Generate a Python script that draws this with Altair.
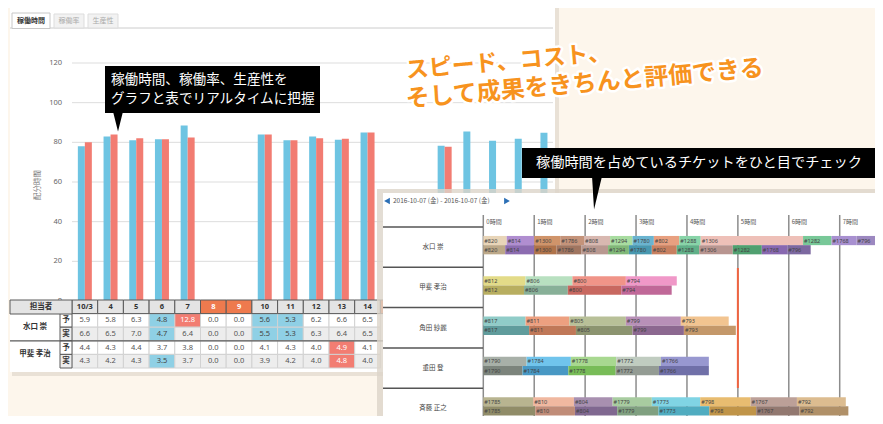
import altair as alt
import pandas as pd

JP = "Noto Sans CJK JP"
W, H = 867, 408


def X(px):
    return px - 8


def Y(py):
    return py - 8


one = pd.DataFrame({"k": [0]})

# ---------------- data ----------------
days = ["10/3", "4", "5", "6", "7", "8", "9", "10", "11", "12", "13", "14",
        "15", "16", "17", "18", "19", "20", "21"]
weekend = ["8", "9", "15", "16"]
plan_hours = [78, 83, 81, 81.5, 88.5, None, None, 84, 81, 83, 81.3, 85,
              None, None, 78.3, 85.4, 80.8, 81.8, 84.8]
actual_hours = [80, 84, 82, 81.5, 82.5, None, None, 84, 81, 82, 81.8, 85,
                None, None, 77.8, None, None, None, None]
y_ticks = [0, 20, 40, 60, 80, 100, 120]

table_days = days[:12]
header_days = days[:13]
mizuguchi_plan = [5.9, 5.8, 6.3, 4.8, 12.8, 0.0, 0.0, 5.6, 5.3, 6.2, 6.6, 6.5]
mizuguchi_actual = [6.6, 6.5, 7.0, 4.7, 6.4, 0.0, 0.0, 5.5, 5.3, 6.3, 6.4, 6.5]
kai_plan = [4.4, 4.3, 4.4, 3.7, 3.8, 0.0, 0.0, 4.1, 4.3, 4.0, 4.9, 4.1]
kai_actual = [4.3, 4.2, 4.3, 3.5, 3.7, 0.0, 0.0, 3.9, 4.2, 4.0, 4.8, 4.0]
mizuguchi_plan_flag = ["", "", "", "low", "high", "", "", "low", "low", "", "", ""]
mizuguchi_actual_flag = ["", "", "", "low", "", "", "", "low", "low", "", "", ""]
kai_plan_flag = ["", "", "", "", "", "", "", "", "", "", "high", ""]
kai_actual_flag = ["", "", "", "low", "", "", "", "", "", "", "high", ""]

people = ["水口 崇", "甲斐 孝治", "角田 紗麗", "重田 登", "斉藤 正之"]
tickets = {
    "水口 崇": ["#820", "#814", "#1300", "#1786", "#808", "#1294", "#1780", "#802",
              "#1288", "#1306", "#1282", "#1768", "#796"],
    "甲斐 孝治": ["#812", "#806", "#800", "#794"],
    "角田 紗麗": ["#817", "#811", "#805", "#799", "#793"],
    "重田 登": ["#1790", "#1784", "#1778", "#1772", "#1766"],
    "斉藤 正之": ["#1785", "#810", "#804", "#1779", "#1773", "#798", "#1767", "#792"],
}
plan_bounds = {
    "水口 崇": [0, 0.46, 1.0, 1.51, 1.98, 2.49, 2.93, 3.35, 3.85, 4.27, 6.28, 6.84, 7.33, 7.79],
    "甲斐 孝治": [0, 0.83, 1.75, 2.80, 3.80],
    "角田 紗麗": [0, 0.83, 1.69, 2.80, 3.88, 4.82],
    "重田 登": [0, 0.85, 1.72, 2.61, 3.49, 4.43],
    "斉藤 正之": [0, 0.98, 1.78, 2.54, 3.31, 4.26, 5.25, 6.16, 7.12],
}
actual_bounds = {
    "水口 崇": [0, 0.43, 1.0, 1.44, 1.93, 2.45, 2.86, 3.31, 3.80, 4.24, 4.90, 5.47, 5.97, 6.43],
    "甲斐 孝治": [0, 0.80, 1.66, 2.71, 3.70],
    "角田 紗麗": [0, 0.90, 1.82, 2.93, 3.94, 4.96],
    "重田 登": [0, 0.77, 1.67, 2.60, 3.45, 4.43],
    "斉藤 正之": [0, 1.02, 1.80, 2.63, 3.44, 4.44, 5.36, 6.21, 7.17],
}
hours = [0, 1, 2, 3, 4, 5, 6, 7]
now_hour = [5.0]

# ticket palette: (planned, actual)
palette = {
    "#820": ("#E8D5B8", "#BCA888"), "#814": ("#B08ED0", "#8C6CB0"),
    "#1300": ("#D0946A", "#B0734A"), "#1786": ("#C4937A", "#A07560"),
    "#808": ("#D8B8B0", "#B89890"), "#1294": ("#A8DCA0", "#80B878"),
    "#1780": ("#6AB4D0", "#4898B0"), "#802": ("#E8A080", "#C88060"),
    "#1288": ("#88D4A8", "#60B088"), "#1306": ("#EEC0B8", "#B89590"),
    "#1282": ("#78C898", "#50A070"), "#1768": ("#A890D0", "#8868B0"),
    "#796": ("#9C88C0", "#7C68A0"),
    "#812": ("#E3DB88", "#B8AE60"), "#806": ("#B8E0C0", "#88B098"),
    "#800": ("#F09488", "#C86860"), "#794": ("#F098C8", "#C06898"),
    "#817": ("#90CCC8", "#609C9C"), "#811": ("#EDA080", "#C07858"),
    "#805": ("#B8C098", "#8C9470"), "#799": ("#B890B8", "#8C6890"),
    "#793": ("#F2C490", "#C4986A"),
    "#1790": ("#A8B0A8", "#7C847C"), "#1784": ("#70C4EC", "#4898C4"),
    "#1778": ("#A8D890", "#78BC58"), "#1772": ("#C0CCC0", "#949C94"),
    "#1766": ("#9898D0", "#7070A8"),
    "#1785": ("#B8B490", "#908C68"), "#810": ("#F0B8A0", "#C08C78"),
    "#804": ("#A890B0", "#806890"), "#1779": ("#A8CCA0", "#80A080"),
    "#1773": ("#80D4E4", "#50ACC0"), "#798": ("#E8BC70", "#C09448"),
    "#1767": ("#BCA098", "#927870"), "#792": ("#DCBC90", "#B09068"),
}


# ---------------- helpers for decoration ----------------
def box(x1, y1, x2, y2, fill, stroke=None, sw=1, opacity=1):
    kw = dict(fill=fill, opacity=opacity)
    if stroke:
        kw.update(stroke=stroke, strokeWidth=sw)
    return alt.Chart(one).mark_rect(**kw).encode(
        x=alt.value(X(x1)), x2=alt.value(X(x2)),
        y=alt.value(Y(y1)), y2=alt.value(Y(y2)))


def hline(x1, x2, y, color, sw=1):
    return alt.Chart(one).mark_rule(color=color, strokeWidth=sw).encode(
        x=alt.value(X(x1)), x2=alt.value(X(x2)), y=alt.value(Y(y)))


def label(x, y, text, size, color, align="left", weight="normal", font=JP,
          angle=None, **extra):
    kw = dict(text=text, fontSize=size, color=color, align=align,
              baseline="middle", fontWeight=weight, font=font)
    if angle is not None:
        kw["angle"] = angle
    kw.update(extra)
    return alt.Chart(one).mark_text(**kw).encode(
        x=alt.value(X(x)), y=alt.value(Y(y)))


def pointer(x, y, path, size):
    return alt.Chart(one).mark_point(shape=path, size=size, filled=True,
                                     color="black", opacity=1).encode(
        x=alt.value(X(x)), y=alt.value(Y(y)))


layers = []

# ---------------- left panel ----------------
layers += [
    box(12, 8, 559, 376, "#E7DFD4", opacity=0.9),
    box(10, 5, 555, 372, "white"),
    hline(10, 553, 28, "#CCCCCC"),
    box(12, 13, 50, 28.5, "white", stroke="#C8C8C8"),
    box(54, 14, 84, 28, "#F2F2F2", stroke="#DDDDDD"),
    box(88, 14, 118, 28, "#F2F2F2", stroke="#DDDDDD"),
    label(31, 21, "稼働時間", 7, "#333333", align="center", weight="bold"),
    label(69, 21, "稼働率", 7, "#AAAAAA", align="center"),
    label(103, 21, "生産性", 7, "#AAAAAA", align="center"),
    label(38, 185, "配分時間", 7.5, "#777777", align="center", angle=270),
]

# ---------------- bar chart ----------------
bx = alt.Scale(domain=days, range=[X(72), X(72 + 19 * 25.7)],
               paddingInner=0, paddingOuter=0)
by = alt.Scale(domain=[0, 120], range=[Y(301), Y(63)], nice=False, zero=False)

bars_df = pd.DataFrame({"day": days, "plan": plan_hours, "actual": actual_hours})
ticks_df = pd.DataFrame({"v": y_ticks})

grid = alt.Chart(ticks_df).mark_rule(color="#DDDDDD", strokeWidth=1).encode(
    y=alt.Y("v:Q", scale=by, axis=None),
    x=alt.value(X(72)), x2=alt.value(X(553)))
tick_text = alt.Chart(ticks_df).mark_text(
    align="right", baseline="middle", fontSize=7.5, color="#666666", font="Noto Sans"
).encode(y=alt.Y("v:Q", scale=by, axis=None), x=alt.value(X(62)),
         text=alt.Text("v:Q"))
blue = alt.Chart(bars_df).mark_bar(width=7, xOffset=-3.5, color="#6EC4E2").encode(
    x=alt.X("day:N", scale=bx, axis=None),
    y=alt.Y("plan:Q", scale=by, axis=None))
red = alt.Chart(bars_df).mark_bar(width=7, xOffset=3.5, color="#F27C72").encode(
    x=alt.X("day:N", scale=bx, axis=None),
    y=alt.Y("actual:Q", scale=by, axis=None))
layers.append(alt.layer(grid, tick_text, blue, red))

# ---------------- table ----------------
row_keys = ["hdr", "水口 崇|予", "水口 崇|実", "甲斐 孝治|予", "甲斐 孝治|実"]
ty = alt.Scale(domain=row_keys, range=[Y(300), Y(368)], paddingInner=0, paddingOuter=0)
styles = ["header", "weekend", "low", "high", "plan", "actual"]
fill_scale = alt.Scale(domain=styles, range=["#E4E4E4", "#EE7A4E", "#8FD0E5",
                                             "#F27D72", "#FFFFFF", "#EDEDED"])
text_scale = alt.Scale(domain=styles, range=["#333333", "#FFFFFF", "#444444",
                                             "#FFFFFF", "#555555", "#555555"])

hdr_df = pd.DataFrame({
    "day": header_days, "row": "hdr",
    "txt": header_days,
    "style": ["weekend" if d in weekend else "header" for d in header_days],
})
cell_rows = []
for key, vals, flags, base in [
    ("水口 崇|予", mizuguchi_plan, mizuguchi_plan_flag, "plan"),
    ("水口 崇|実", mizuguchi_actual, mizuguchi_actual_flag, "actual"),
    ("甲斐 孝治|予", kai_plan, kai_plan_flag, "plan"),
    ("甲斐 孝治|実", kai_actual, kai_actual_flag, "actual"),
]:
    for d, v, f in zip(table_days, vals, flags):
        cell_rows.append({"day": d, "row": key, "txt": f"{v:.1f}",
                          "style": f if f else base})
cell_df = pd.DataFrame(cell_rows)
side_df = pd.DataFrame({"row": row_keys[1:], "txt": ["予", "実", "予", "実"],
                        "style": ["plan", "actual", "plan", "actual"],
                        "person": ["水口 崇", "水口 崇", "甲斐 孝治", "甲斐 孝治"]})

tx = alt.X("day:N", scale=bx, axis=None)
tyenc = alt.Y("row:N", scale=ty, axis=None)
fill_enc = alt.Fill("style:N", scale=fill_scale, legend=None)
col_enc = alt.Color("style:N", scale=text_scale, legend=None)

data_cells = alt.Chart(cell_df).mark_rect(stroke="#D2D2D2", strokeWidth=1).encode(
    x=tx, y=tyenc, fill=fill_enc)
data_text = alt.Chart(cell_df).mark_text(fontSize=7.5, font="Noto Sans").encode(
    x=tx, y=tyenc, text="txt:N", color=col_enc)
hdr_cells = alt.Chart(hdr_df).mark_rect(stroke="#5A5A5A", strokeWidth=1).encode(
    x=tx, y=tyenc, fill=fill_enc)
hdr_text = alt.Chart(hdr_df).mark_text(fontSize=7.5, font="Noto Sans",
                                       fontWeight="bold").encode(
    x=tx, y=tyenc, text="txt:N", color=col_enc)
name_cells = alt.Chart(side_df).mark_rect(fill="white").encode(
    y=tyenc, x=alt.value(X(10)), x2=alt.value(X(60)))
side_cells = alt.Chart(side_df).mark_rect(stroke="#5A5A5A", strokeWidth=1).encode(
    y=tyenc, x=alt.value(X(60)), x2=alt.value(X(72)), fill=fill_enc)
side_text = alt.Chart(side_df).mark_text(fontSize=7.5, font=JP, fontWeight="bold",
                                         color="#333333").encode(
    y=tyenc, x=alt.value(X(66)), text="txt:N")
name_df = side_df[side_df["txt"] == "実"]
name_text = alt.Chart(name_df).mark_text(fontSize=7.5, font=JP, fontWeight="bold",
                                         color="#333333").encode(
    y=alt.Y("row:N", scale=ty, axis=None, bandPosition=0),
    x=alt.value(X(35)), text="person:N")
sep_df = pd.DataFrame({"row": ["甲斐 孝治|予"]})
person_sep = alt.Chart(sep_df).mark_rule(color="#5A5A5A", strokeWidth=1.2).encode(
    y=alt.Y("row:N", scale=ty, axis=None, bandPosition=0),
    x=alt.value(X(10)), x2=alt.value(X(383)))
layers.append(alt.layer(name_cells, data_cells, data_text, hdr_cells, hdr_text,
                        side_cells, side_text, name_text, person_sep))
layers += [
    box(10, 300, 72, 314, "#E4E4E4", stroke="#5A5A5A"),
    label(41, 307, "担当者", 7.5, "#333333", align="center", weight="bold"),
]

# ---------------- callout 1 ----------------
layers += [
    box(105, 66, 320, 113, "black"),
    pointer(118, 122, "M-0.5,-1L0.5,-1L0,1Z", 361),
    label(111, 80, "稼働時間、稼働率、生産性を", 13.6, "white"),
    label(111, 99, "グラフと表でリアルタイムに把握", 13.6, "white"),
]

# ---------------- headline ----------------
for (x, y, t, s) in [(406, 71, "スピード、コスト、", 23),
                     (406, 100, "そして成果をきちんと評価できる", 24)]:
    layers.append(label(x, y, t, s, "white", weight="bold", angle=355,
                        stroke="white", strokeWidth=5, strokeJoin="round"))
    layers.append(label(x, y, t, s, "#F7931E", weight="bold", angle=355))

# ---------------- gantt panel ----------------
layers += [
    box(377, 189, 883, 424, "#DCD4C9", opacity=0.8),
    box(383, 193, 883, 424, "white"),
]

ROW_H = 40.3
gx = alt.Scale(domain=[0, 7], range=[X(483.3), X(839.7)], nice=False, zero=False)
gy = alt.Scale(domain=people, range=[Y(227), Y(227 + 5 * ROW_H)],
               paddingInner=0, paddingOuter=0)

seg_rows = []
for p in people:
    for kind, bounds in [("plan", plan_bounds[p]), ("actual", actual_bounds[p])]:
        for i, t in enumerate(tickets[p]):
            seg_rows.append({"person": p, "kind": kind, "ticket": t,
                             "start": bounds[i], "end": bounds[i + 1],
                             "key": kind + t})
seg_df = pd.DataFrame(seg_rows)
keys = [k + t for t in palette for k in ("plan", "actual")]
cols = [palette[t][0 if k == "plan" else 1] for t in palette for k in ("plan", "actual")]
gcolor = alt.Color("key:N", scale=alt.Scale(domain=keys, range=cols), legend=None)

hours_df = pd.DataFrame({"h": hours, "lab": [f"{h}時間" for h in hours]})
ggrid = alt.Chart(hours_df).mark_rule(color="#8C8C8C", strokeWidth=1.5).encode(
    x=alt.X("h:Q", scale=gx, axis=None), y=alt.value(Y(215)), y2=alt.value(Y(424)))
glab = alt.Chart(hours_df).mark_text(align="left", baseline="middle", dx=3,
                                     fontSize=6, color="#555555", font=JP).encode(
    x=alt.X("h:Q", scale=gx, axis=None), y=alt.value(Y(222)), text="lab:N")
now_line = alt.Chart(pd.DataFrame({"h": now_hour})).mark_rule(
    color="#F06440", strokeWidth=2).encode(
    x=alt.X("h:Q", scale=gx, axis=None), y=alt.value(Y(268)), y2=alt.value(Y(388)))

gl = []
for kind, yoff in [("plan", -6.6), ("actual", 2.6)]:
    sub = seg_df[seg_df["kind"] == kind]
    gl.append(alt.Chart(sub).mark_bar(size=9.2, yOffset=yoff).encode(
        x=alt.X("start:Q", scale=gx, axis=None), x2="end:Q",
        y=alt.Y("person:N", scale=gy, axis=None), color=gcolor))
    gl.append(alt.Chart(sub).mark_text(align="left", baseline="middle", dx=1,
                                       yOffset=yoff, fontSize=5.5, font="Noto Sans",
                                       color="#444444").encode(
        x=alt.X("start:Q", scale=gx, axis=None),
        y=alt.Y("person:N", scale=gy, axis=None), text="ticket:N"))
people_df = pd.DataFrame({"person": people})
gsep = alt.Chart(people_df).mark_rule(color="#555555", strokeWidth=1.5).encode(
    y=alt.Y("person:N", scale=gy, axis=None, bandPosition=0),
    x=alt.value(X(383)), x2=alt.value(X(483)))
gname = alt.Chart(people_df).mark_text(fontSize=6.5, font=JP, color="#444444").encode(
    y=alt.Y("person:N", scale=gy, axis=None), x=alt.value(X(433)), text="person:N")
layers.append(alt.layer(ggrid, glab, now_line, *gl, gsep, gname))

layers += [
    alt.Chart(one).mark_point(shape="triangle-left", size=45, filled=True,
                              color="#2C6FB5", opacity=1).encode(
        x=alt.value(X(387)), y=alt.value(Y(201))),
    alt.Chart(one).mark_point(shape="triangle-right", size=45, filled=True,
                              color="#2C6FB5", opacity=1).encode(
        x=alt.value(X(507)), y=alt.value(Y(201))),
    label(393, 201, "2016-10-07 (金) - 2016-10-07 (金)", 6.5, "#555555"),
]

# ---------------- callout 2 ----------------
layers += [
    box(522, 148, 883, 178, "black"),
    pointer(597, 193, "M-0.3,-1L0.3,-1L-0.18,1Z", 1089),
    label(536, 163, "稼働時間を占めているチケットをひと目でチェック", 14.2, "white"),
]

chart = alt.layer(*layers).resolve_scale(
    x="independent", y="independent", color="independent", fill="independent"
).properties(
    width=W, height=H, padding=0, autosize=alt.AutoSizeParams(type="none")
).configure(background="#FDF6EC").configure_view(stroke=None)

chart.save("out.html", embed_options={"renderer": "svg", "actions": False})
